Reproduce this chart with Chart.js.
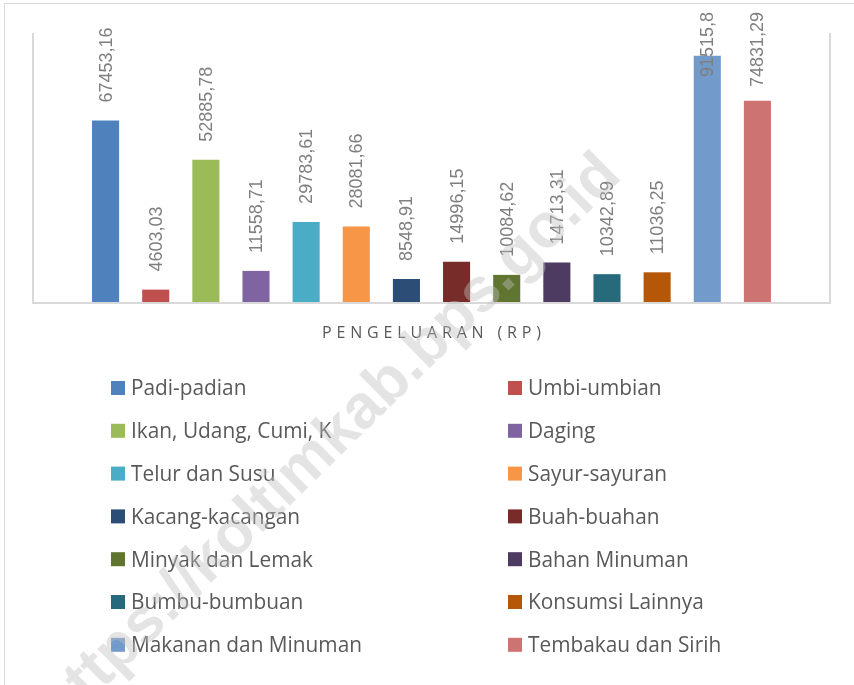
<!DOCTYPE html>
<html>
<head>
<meta charset="utf-8">
<script src="https://cdn.jsdelivr.net/npm/chart.js@4.4.1/dist/chart.umd.min.js"></script>
<style>
  html, body { margin: 0; padding: 0; background: #ffffff; }
  #wrap { width: 854px; height: 685px; position: relative; }
  canvas { display: block; }
</style>
</head>
<body>
<div id="wrap"><canvas id="chart" width="854" height="685"></canvas></div>
<script>
// ---- data ----
const categories = ['Pengeluaran (Rp)'];
const seriesNames = [
  'Padi-padian', 'Umbi-umbian', 'Ikan, Udang, Cumi, K', 'Daging',
  'Telur dan Susu', 'Sayur-sayuran', 'Kacang-kacangan', 'Buah-buahan',
  'Minyak dan Lemak', 'Bahan Minuman', 'Bumbu-bumbuan', 'Konsumsi Lainnya',
  'Makanan dan Minuman', 'Tembakau dan Sirih'
];
const seriesValues = [
  67453.16, 4603.03, 52885.78, 11558.71,
  29783.61, 28081.66, 8548.91, 14996.15,
  10084.62, 14713.31, 10342.89, 11036.25,
  91515.8, 74831.29
];
const seriesColors = [
  '#4F81BD', '#C0504D', '#9BBB59', '#8064A2',
  '#4BACC6', '#F79646', '#2C4D75', '#772C2A',
  '#5F7530', '#4D3B62', '#276A7C', '#B65708',
  '#729ACA', '#CD7371'
];
const axisTitle = 'PENGELUARAN (RP)';
const yMin = 0;
const yMax = 100000;
const watermarkText = 'https://koltimkab.bps.go.id';

function fmt(v) { return String(v).replace('.', ','); }

// ---- plugins ----
const framePlugin = {
  id: 'frame',
  beforeDraw(chart) {
    const ctx = chart.ctx;
    ctx.save();
    ctx.fillStyle = '#ffffff';
    ctx.fillRect(0, 0, chart.width, chart.height);
    ctx.strokeStyle = '#d9d9d9';
    ctx.lineWidth = 1;
    ctx.beginPath();
    ctx.moveTo(4.5, chart.height);
    ctx.lineTo(4.5, 3.5);
    ctx.lineTo(chart.width, 3.5);
    ctx.stroke();
    ctx.restore();
  },
  afterDatasetsDraw(chart) {
    const a = chart.chartArea;
    const ctx = chart.ctx;
    ctx.save();
    ctx.strokeStyle = '#d9d9d9';
    ctx.lineWidth = 2;
    ctx.beginPath();
    ctx.moveTo(a.left - 1, a.top);
    ctx.lineTo(a.left - 1, a.bottom + 1);
    ctx.lineTo(a.right + 1, a.bottom + 1);
    ctx.lineTo(a.right + 1, a.top);
    ctx.stroke();
    ctx.restore();
  }
};

const valueLabelPlugin = {
  id: 'valueLabels',
  afterDatasetsDraw(chart) {
    const ctx = chart.ctx;
    ctx.save();
    ctx.font = '18px "Liberation Sans", Arial, sans-serif';
    ctx.fillStyle = '#7f7f7f';
    ctx.textBaseline = 'middle';
    ctx.textAlign = 'left';
    chart.data.datasets.forEach((ds, i) => {
      const meta = chart.getDatasetMeta(i);
      const bar = meta.data[0];
      const txt = fmt(ds.data[0]);
      const w = ctx.measureText(txt).width;
      let start = bar.y - 18;
      if (start - w < 12) start = 12 + w;
      ctx.save();
      ctx.translate(bar.x + 1, start);
      ctx.rotate(-Math.PI / 2);
      ctx.fillText(txt, 0, 0);
      ctx.restore();
    });
    ctx.restore();
  }
};

const titleLegendPlugin = {
  id: 'titleLegend',
  afterDraw(chart) {
    const ctx = chart.ctx;
    const a = chart.chartArea;
    ctx.save();
    // axis title with letter spacing
    ctx.font = '16px "Open Sans", sans-serif';
    ctx.fillStyle = '#595959';
    ctx.textBaseline = 'middle';
    ctx.textAlign = 'left';
    const tw = ctx.measureText(axisTitle).width;
    const targetW = 219;
    const n = axisTitle.length;
    const ls = Math.max(0, (targetW - tw) / (n - 1));
    const tx = (a.left + a.right) / 2 - targetW / 2;
    if ('letterSpacing' in ctx) ctx.letterSpacing = ls.toFixed(2) + 'px';
    ctx.fillText(axisTitle, tx, a.bottom + 31);
    if ('letterSpacing' in ctx) ctx.letterSpacing = '0px';

    // two-column legend
    ctx.font = '21px "Open Sans", sans-serif';
    const refW = ctx.measureText('Makanan dan Minuman').width;
    const sx = 231 / refW;
    chart.data.datasets.forEach((ds, i) => {
      const col = i % 2, row = Math.floor(i / 2);
      const mx = col ? 508 : 111;
      const cy = a.bottom + 86 + row * 42.8;
      ctx.fillStyle = ds.backgroundColor;
      ctx.fillRect(mx, cy - 7, 14, 14);
      ctx.save();
      ctx.translate(mx + 20, cy + 1.5);
      ctx.scale(sx, 1);
      ctx.fillStyle = '#595959';
      ctx.fillText(ds.label, 0, 0);
      ctx.restore();
    });
    ctx.restore();

    // watermark
    ctx.save();
    ctx.translate(330, 442);
    ctx.rotate(-44.5 * Math.PI / 180);
    ctx.font = 'bold 62px "Liberation Sans", Arial, sans-serif';
    ctx.fillStyle = 'rgba(190,190,190,0.42)';
    ctx.textAlign = 'center';
    ctx.textBaseline = 'middle';
    ctx.fillText(watermarkText, 0, 0);
    ctx.restore();
  }
};

// ---- chart ----
const datasets = seriesNames.map((name, i) => ({
  label: name,
  data: [seriesValues[i]],
  backgroundColor: seriesColors[i],
  borderWidth: 0,
  categoryPercentage: 0.883,
  barPercentage: 0.54
}));

new Chart(document.getElementById('chart'), {
  type: 'bar',
  data: { labels: categories, datasets },
  options: {
    responsive: false,
    animation: false,
    devicePixelRatio: 1,
    layout: { padding: { left: 34, right: 25, top: 33, bottom: 383 } },
    plugins: {
      legend: { display: false },
      tooltip: { enabled: false },
      title: { display: false }
    },
    scales: {
      x: { display: false },
      y: { display: false, min: yMin, max: yMax }
    }
  },
  plugins: [framePlugin, valueLabelPlugin, titleLegendPlugin]
});
</script>
</body>
</html>
